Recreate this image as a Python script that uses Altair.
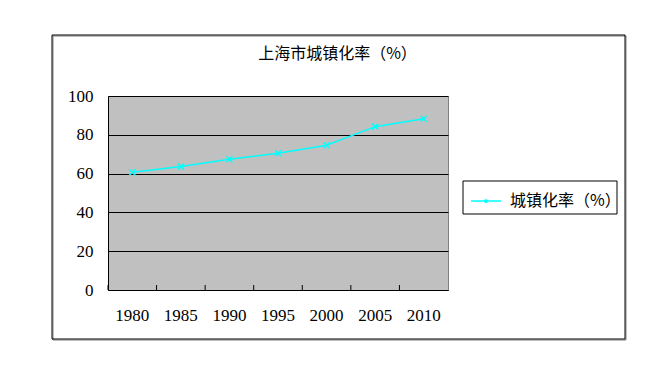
import altair as alt
import pandas as pd

years = ["1980", "1985", "1990", "1995", "2000", "2005", "2010"]
rates = [60.7, 63.6, 67.4, 70.5, 74.6, 84.2, 88.3]
series_name = "城镇化率（%）"
chart_title = "上海市城镇化率（%）"
y_ticks = [0, 20, 40, 60, 80, 100]

df = pd.DataFrame({"year": years, "rate": rates, "series": [series_name] * len(years)})
one = pd.DataFrame({"a": [0]})

CJK = "Noto Sans CJK SC"
NUM = "Liberation Serif"
W, H = 340, 194

xscale = alt.Scale(type="band", paddingInner=0, paddingOuter=0, domain=years)
yscale = alt.Scale(domain=[0, 100])

xaxis = alt.Axis(title=None, ticks=False, grid=False, domain=True, domainColor="black",
                 labelFont=NUM, labelFontSize=17, labelColor="black", labelPadding=17,
                 labelAngle=0, bandPosition=0.5, labelAlign="center", labelOverlap=False)
yaxis = alt.Axis(title=None, values=y_ticks, ticks=False, grid=True, gridColor="black",
                 gridOpacity=1, domainColor="black", labelFont=NUM, labelFontSize=17,
                 labelColor="black", labelPadding=15, labelOverlap=False)

base = alt.Chart(df)

line = base.mark_line(color="#00FFFF", strokeWidth=1.5).encode(
    x=alt.X("year:N", scale=xscale, axis=xaxis, bandPosition=0.5, sort=years),
    y=alt.Y("rate:Q", scale=yscale, axis=yaxis),
    color=alt.Color("series:N", scale=alt.Scale(range=["#00FFFF"]),
                    legend=alt.Legend(
                        title=None, orient="none", legendX=357, legendY=84,
                        symbolType="M-1,0L1,0M-0.09,-0.09L0.09,0.09M-0.09,0.09L0.09,-0.09",
                        symbolSize=900, symbolStrokeWidth=1.5,
                        symbolFillColor="transparent",
                        labelFont=CJK, labelFontSize=16, labelColor="black",
                        labelOffset=8, padding=5)),
)

points = base.mark_point(shape="M-1,-1L1,1M-1,1L1,-1", filled=False, color="#00FFFF",
                         size=36, strokeWidth=1.5, opacity=1).encode(
    x=alt.X("year:N", scale=xscale, bandPosition=0.5, sort=years, axis=xaxis),
    y=alt.Y("rate:Q", scale=yscale, axis=yaxis),
)

ticks = base.mark_rule(color="black", strokeWidth=1).encode(
    x=alt.X("year:N", scale=xscale, bandPosition=0, sort=years, axis=xaxis),
    y=alt.value(H),
    y2=alt.value(H - 5),
)

frame = alt.Chart(one).mark_rect(fillOpacity=0, stroke="black", strokeWidth=1, clip=False).encode(
    x=alt.value(-56), x2=alt.value(517), y=alt.value(-61), y2=alt.value(243)
)
shadow = alt.Chart(one).mark_rect(fillOpacity=0, stroke="#808080", strokeWidth=1, clip=False).encode(
    x=alt.value(-55), x2=alt.value(518), y=alt.value(-60), y2=alt.value(244)
)
legend_box = alt.Chart(one).mark_rect(fill="white", stroke="black", strokeWidth=1, clip=False).encode(
    x=alt.value(355), x2=alt.value(509), y=alt.value(85), y2=alt.value(118)
)

title = alt.Chart(one).mark_text(font=CJK, fontSize=16, color="black", align="center",
                                 baseline="middle").encode(
    x=alt.value(229.5), y=alt.value(-42), text=alt.value(chart_title)
)

chart = alt.layer(line, points, ticks, shadow, frame, legend_box, title).properties(
    width=W, height=H,
    autosize=alt.AutoSizeParams(type="none"),
    padding={"left": 100, "top": 88, "right": 190, "bottom": 60},
    background="white",
).configure_view(stroke="#808080", fill="#C0C0C0")

chart.save("out.html", embed_options={"renderer": "svg", "actions": False})
